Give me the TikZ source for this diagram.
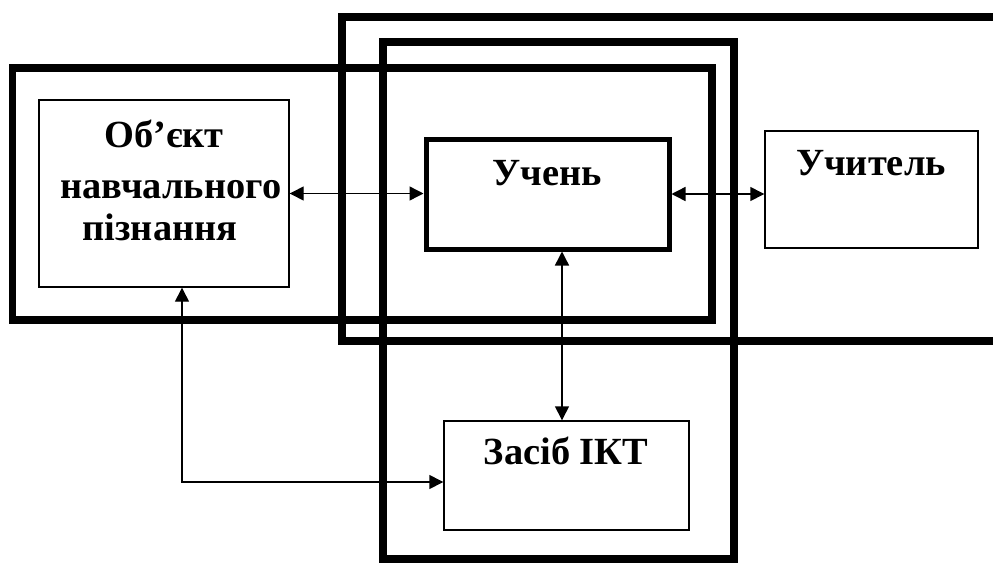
\documentclass[tikz,border=0pt]{standalone}
\usepackage{fontspec}
\setmainfont{Liberation Serif}
\usetikzlibrary{arrows.meta,fit}

\begin{document}
\begin{tikzpicture}[x=0.5pt,y=-0.5pt,line join=miter,
		frame/.style={line width=3.6pt},
		box/.style={draw,line width=0.7pt,inner sep=0pt},
		lbl/.style={font=\bfseries\fontsize{19.2}{23}\selectfont,inner sep=0pt,anchor=base},
		link/.style={{Triangle[length=7pt,width=7pt]}-{Triangle[length=7pt,width=7pt]},line width=0.7pt}]
	\useasboundingbox (0,0) rectangle (993,563);
	\clip (0,0) rectangle (993,563);
	% Frames
	\draw [frame] (12.5,68) rectangle (712,320);
	\draw [frame] (342,17) rectangle (1010,341);
	\draw [frame] (383,42) rectangle (734,559);
	% Boxes
	\node [box,fit={(39,100) (289,287)}] (obj) {};
	\node [box,line width=2.5pt,fit={(426,139) (669,249)}] (uchen) {};
	\node [box,fit={(765,131) (978,248)}] (uchytel) {};
	\node [box,fit={(444,421) (689,530)}] (zasib) {};
	\node [lbl] (objt1) at (164,147) {Об’єкт};
	\node [lbl] (objt2) at (171,198) {навчального};
	\node [lbl] (objt3) at (160,240) {пізнання};
	\node [lbl] (uchent) at (547,185) {Учень};
	\node [lbl] (uchytelt) at (871,175) {Учитель};
	\node [lbl] (zasibt) at (566,464) {Засіб ІКТ};
	% Arrows
	\coordinate (m) at (562,300);
	\coordinate (bend) at (182,482);
	\draw [link] (obj.east) -- (obj.east -| uchen.west);
	\draw [link] (uchen.east) -- (uchen.east -| uchytel.west);
	\draw [link] (uchen.south -| m) -- (zasib.north -| m);
	\draw [link] (obj.south -| bend) |- (bend -| zasib.west);
\end{tikzpicture}
\end{document}
